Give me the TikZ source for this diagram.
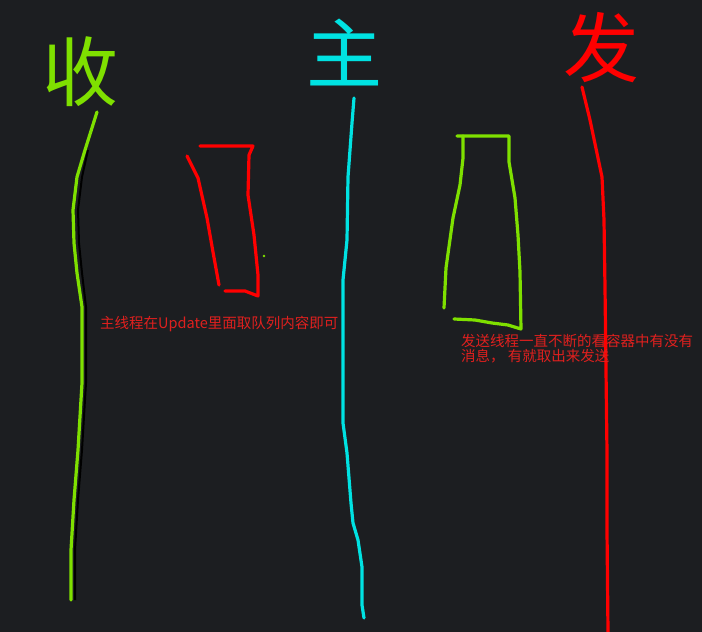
\documentclass[tikz,border=0pt]{standalone}
\usepackage{fontspec}
\newfontfamily\cjk{Noto Sans CJK SC}
\usetikzlibrary{positioning}
\definecolor{board}{HTML}{1C1E21}
\definecolor{penlime}{HTML}{7FE000}
\definecolor{pencyan}{HTML}{00E2E2}
\definecolor{penred}{HTML}{FF0000}
\definecolor{notered}{HTML}{E0201E}
\tikzset{
  pen/.style={line width=3.2pt, line cap=round, line join=round},
  handch/.style={font=\cjk\fontsize{76}{76}\selectfont, inner sep=0pt},
  note/.style={font=\cjk\fontsize{14.5}{15}\selectfont, text=notered, inner sep=0pt, anchor=west, align=left}
}

\begin{document}
\begin{tikzpicture}[x=1pt,y=-1pt]
      \fill [board] (0,0) rectangle (702,632);
      \useasboundingbox (0,0) rectangle (702,632);

      % hand written headings
      \node[handch, text=penlime] (recvch) at (80,72) {收};
      \node[handch, text=pencyan] (mainch) at (344,52) {主};
      \node[handch, text=penred] (sendch) at (601,48) {发};

      % receive thread
      \draw [black, line width=2pt] plot coordinates { (88,150) (82,177) (78,210) (79,243) (82,273) (86,307) (86,383) (82,450) (78,500) (75,550) (75,600) };
      \draw [penlime, pen] plot coordinates { (97,112) (85,150) (77,177) (73,210) (74,243) (77,273) (82,307) (82,383) (78,450) (74,500) (71,550) (71,600) };

      % main thread
      \draw [pencyan, pen] plot coordinates { (354,98) (352,123) (348,177) (347,240) (343,280) (343,423) (347,453) (351,503) (353,523) (358,540) (362,567) (362,605) (364,618) };

      % send thread
      \draw [penred, pen] plot coordinates { (582,87) (590,120) (602,177) (604,220) (605,287) (607,453) (607,530) (608,632) };

      % queue of the main thread
      \draw [penred, pen] plot coordinates { (200,146) (253,146) (249,155) (248,195) (254,235) (258,275) (258,296) (245,291) (225,291) };
      \draw [penred, pen] plot coordinates { (187,156) (193,168) (198,178) (207,218) (213,252) (219,285) };
      \fill [penlime] (264,256) circle (1.3);

      % container of the send thread
      \draw [penlime, pen] plot coordinates { (457,136) (509,136) (509,162) (515,198) (518,235) (520,272) (521,329) (508,325) (492,323) (475,320) (454,319) };
      \draw [penlime, pen] plot coordinates { (463,136) (463,158) (460,185) (453,218) (446,268) (444,308) };

      \node[note] (mainnote) at (100,324) {主线程在Update里面取队列内容即可};
      \node[note] (sendnote) at (461,349) {发送线程一直不断的看容器中有没有\\消息， 有就取出来发送};
\end{tikzpicture}
\end{document}
